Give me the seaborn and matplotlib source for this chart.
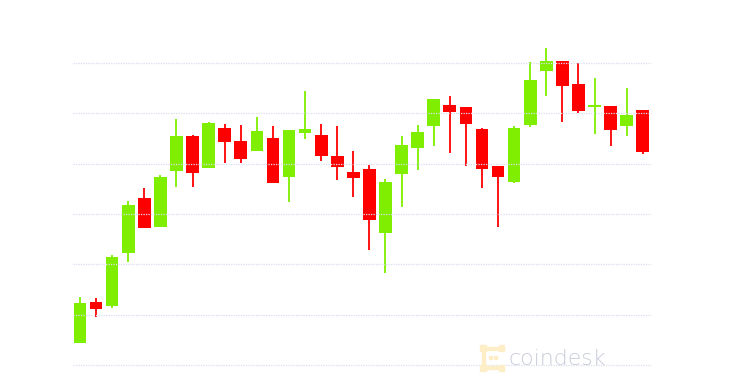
import numpy as np
import pandas as pd
import matplotlib
matplotlib.use("Agg")
import matplotlib.pyplot as plt
from matplotlib.patches import Rectangle
import seaborn as sns

# ---- data (price units; gridlines every 100) ----
opens  = [44, 126, 117, 223, 331, 275, 386, 455, 392, 470, 446, 425, 452, 374, 460, 457, 415, 383,
          389, 263, 380, 431, 475, 517, 512, 468, 395, 364, 477, 585, 604, 558, 512, 515, 474, 507]
highs  = [136, 133, 219, 326, 352, 378, 489, 457, 482, 479, 477, 493, 475, 466, 545, 479, 475, 426,
          397, 369, 455, 477, 528, 535, 512, 471, 395, 475, 602, 629, 604, 601, 571, 515, 550, 507]
lows   = [44, 96, 114, 205, 272, 275, 354, 354, 392, 401, 401, 425, 361, 323, 450, 405, 368, 334,
          229, 183, 313, 387, 436, 421, 396, 352, 275, 362, 472, 535, 483, 500, 458, 436, 455, 419]
closes = [123, 111, 214, 317, 273, 374, 454, 382, 480, 444, 410, 464, 362, 466, 468, 416, 393, 371,
          288, 364, 438, 462, 528, 503, 479, 390, 374, 471, 566, 604, 554, 504, 516, 467, 497, 424]
grid_levels = [0, 100, 200, 300, 400, 500, 600]

df = pd.DataFrame({"open": opens, "high": highs, "low": lows, "close": closes})
df["idx"] = np.arange(len(df))
df["up"] = df["close"] >= df["open"]

GREEN = "#7fee00"
RED = "#ff0000"

sns.set_theme(style="white")
fig = plt.figure(figsize=(7.45, 3.89), dpi=100)
ax = fig.add_axes([0, 0, 1, 1])

colors = np.where(df["up"], GREEN, RED)
# wicks
ax.vlines(df["idx"], df["low"], df["high"], colors=colors, linewidth=1.3, zorder=2)
# bodies
bottoms = df[["open", "close"]].min(axis=1)
heights = (df["close"] - df["open"]).abs().clip(lower=3)
ax.bar(df["idx"], heights, bottom=bottoms, width=0.79, color=colors, linewidth=0, zorder=2)

# dotted gridlines on top
ax.hlines(grid_levels, -0.44, 35.5, colors="#dadeee", linewidth=0.9,
          linestyles=(0, (1, 1)), zorder=3)

ax.set_xlim(-4.975, 41.36)
ax.set_ylim(-47.7, 725.2)
ax.set_axis_off()

# watermark
fig.text(509 / 745, 1 - 365 / 389, "coindesk", fontsize=15.8, color="#c9ccd8",
         family="DejaVu Sans", fontweight="light", ha="left", va="baseline")
logo_c = "#fdeec8"
W, H = 745, 389
def rect(x, y, w, h):
    fig.patches.append(Rectangle((x / W, 1 - (y + h) / H), w / W, h / H,
                                 transform=fig.transFigure, color=logo_c, zorder=0))
rect(482, 347, 3, 22)
rect(482, 347, 20, 3)
rect(482, 366, 20, 3)
rect(499, 345, 5, 6)
rect(499, 365, 5, 6)
rect(480, 345, 6, 6)
rect(480, 365, 6, 6)
rect(489, 356, 3, 3)
rect(494, 356, 3, 3)

fig.savefig("out.png", dpi=100, facecolor="white")
